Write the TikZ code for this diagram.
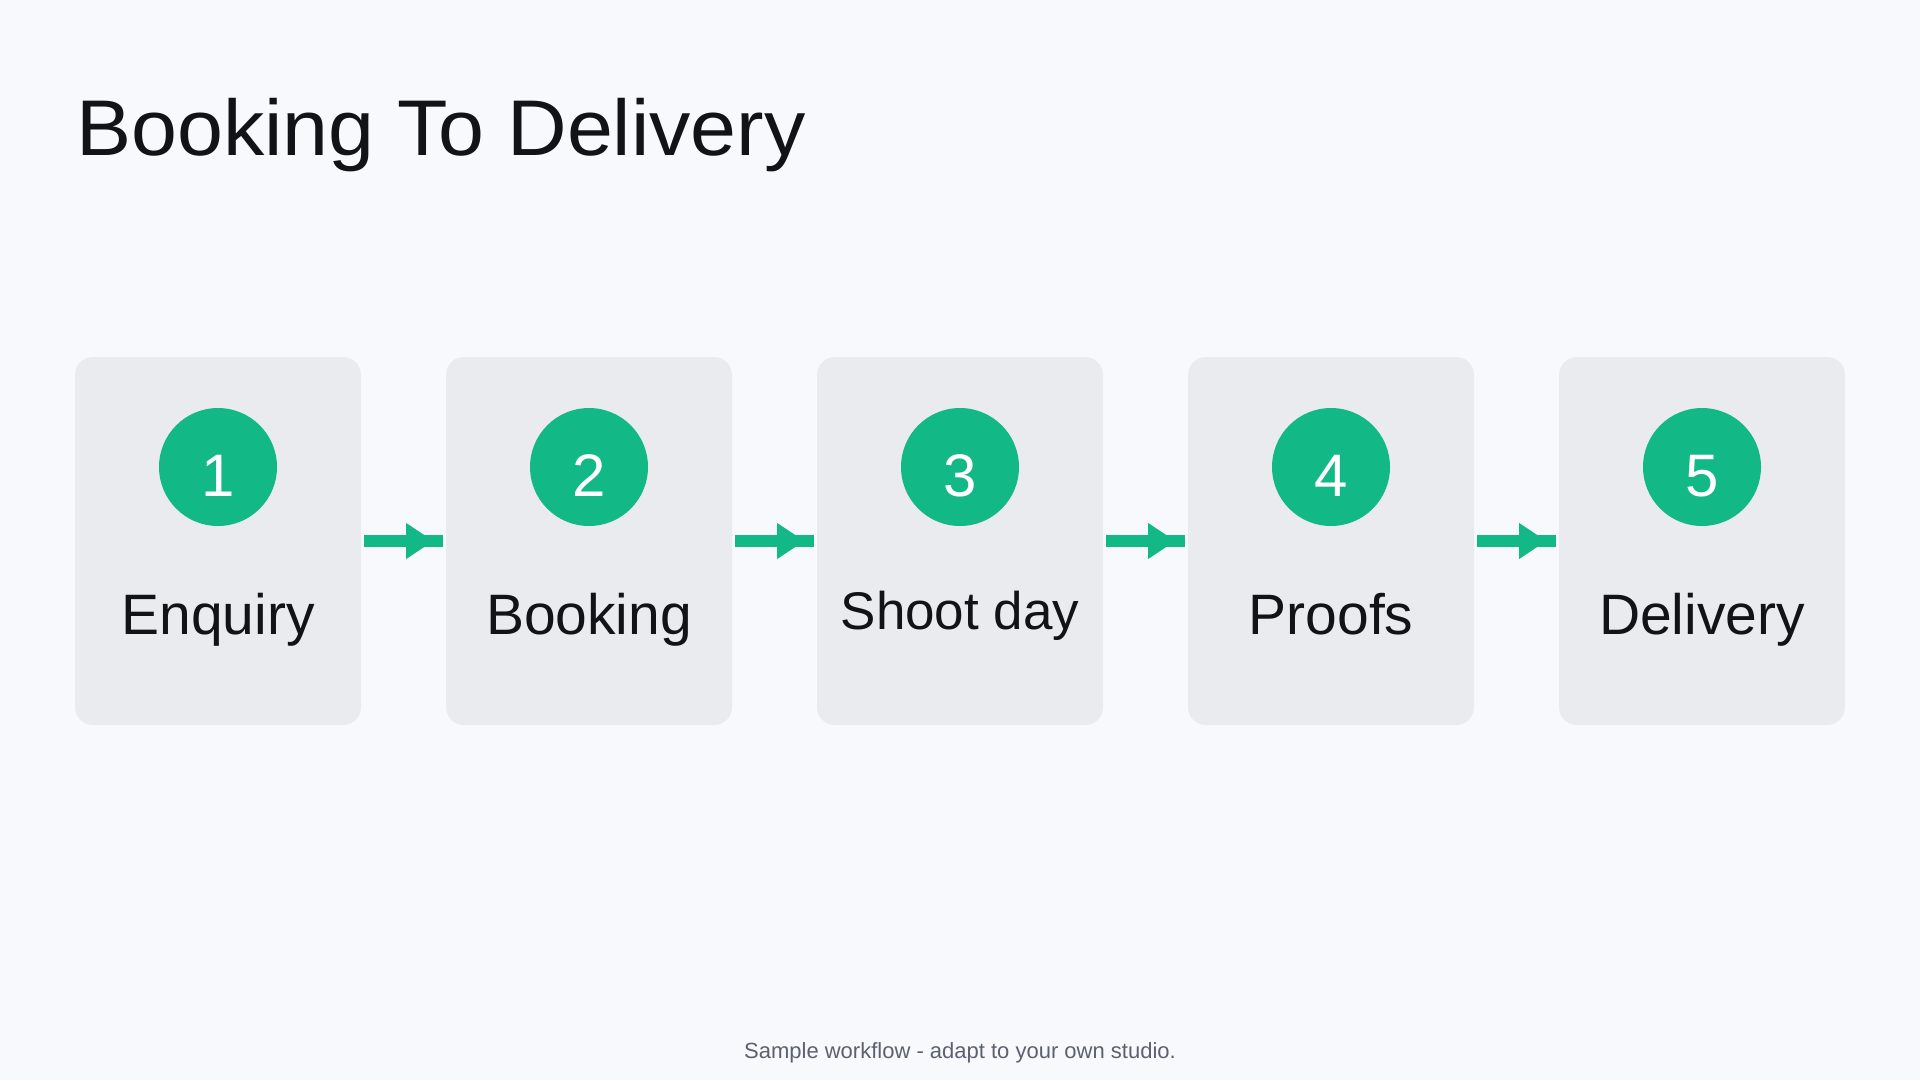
\documentclass[tikz,border=0pt]{standalone}
\usepackage{fontspec}
\setmainfont{Liberation Sans}
\usetikzlibrary{decorations.markings}
\definecolor{bgc}{HTML}{F7F9FC}
\definecolor{boxc}{HTML}{E9EBEF}
\definecolor{accent}{HTML}{12B886}
\definecolor{ink}{HTML}{111318}
\definecolor{muted}{HTML}{5B616E}
\begin{document}
\begin{tikzpicture}[x=1pt,y=-1pt,
  stepbox/.style={fill=boxc, rounded corners=18pt, minimum width=286pt, minimum height=368pt, inner sep=0pt},
  badge/.style={circle, fill=accent, minimum size=118pt, inner sep=0pt},
  num/.style={text=white, font=\fontsize{60}{60}\selectfont, anchor=base, inner sep=0pt},
  lbl/.style={text=ink, font=\fontsize{57}{60}\selectfont, anchor=base, inner sep=0pt},
  lblsmall/.style={text=ink, font=\fontsize{53}{56}\selectfont, anchor=base, inner sep=0pt},
  flow/.style={draw=accent, line width=12pt, postaction={decorate},
    decoration={markings, mark=at position 42pt with {\fill[accent] (0pt,-18pt) -- (27pt,0pt) -- (0pt,18pt) -- cycle;}}},
  titlestyle/.style={text=ink, font=\fontsize{79}{84}\selectfont, anchor=base west, inner sep=0pt},
  footstyle/.style={text=muted, font=\fontsize{22}{26}\selectfont, anchor=base, inner sep=0pt}
]
\useasboundingbox (0,0) rectangle (1920,1080);
\fill[bgc] (0,0) rectangle (1920,1080);

\node[titlestyle] (title) at (76,155) {\scalebox{1.045}[1]{Booking To Delivery}};

\node[stepbox] (b1) at (218,541) {};
\node[stepbox] (b2) at (589,541) {};
\node[stepbox] (b3) at (960,541) {};
\node[stepbox] (b4) at (1331,541) {};
\node[stepbox] (b5) at (1702,541) {};

\node[badge] (c1) at (218,467) {};
\node[badge] (c2) at (589,467) {};
\node[badge] (c3) at (960,467) {};
\node[badge] (c4) at (1331,467) {};
\node[badge] (c5) at (1702,467) {};

\node[num] (n1) at ([yshift=-29pt]c1.center) {1};
\node[num] (n2) at ([yshift=-29pt]c2.center) {2};
\node[num] (n3) at ([yshift=-29pt]c3.center) {3};
\node[num] (n4) at ([yshift=-29pt]c4.center) {4};
\node[num] (n5) at ([yshift=-29pt]c5.center) {5};

\node[lbl] (l1) at (218,634) {Enquiry};
\node[lbl] (l2) at (589,634) {Booking};
\node[lblsmall] (l3) at (960,629) {Shoot day};
\node[lbl] (l4) at (1331,634) {Proofs};
\node[lbl] (l5) at (1702,634) {Delivery};

\draw[flow] ([xshift=3pt]b1.east) -- ([xshift=-3pt]b2.west);
\draw[flow] ([xshift=3pt]b2.east) -- ([xshift=-3pt]b3.west);
\draw[flow] ([xshift=3pt]b3.east) -- ([xshift=-3pt]b4.west);
\draw[flow] ([xshift=3pt]b4.east) -- ([xshift=-3pt]b5.west);

\node[footstyle] (foot) at (960,1058) {Sample workflow - adapt to your own studio.};
\end{tikzpicture}
\end{document}
